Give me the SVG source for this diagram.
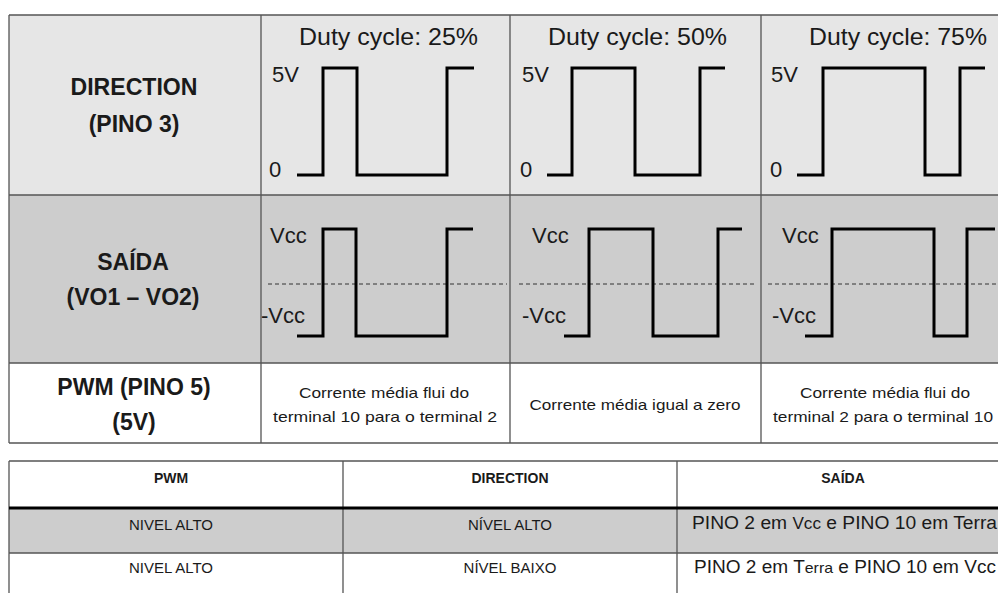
<svg xmlns="http://www.w3.org/2000/svg" width="998" height="593" viewBox="0 0 998 593">
<style>
text{font-family:"Liberation Sans",Arial,sans-serif;fill:#1a1a1a}
.hd{font-weight:bold;font-size:23px;text-anchor:middle}
.ttl{font-size:24px}
.lab{font-size:22px}
.sm{font-size:15px;text-anchor:middle}
.bh{font-weight:bold;font-size:14px;text-anchor:middle}
.bt{font-size:15px;text-anchor:middle}
.big{font-size:18px}
.wave{fill:none;stroke:#000;stroke-width:3;stroke-linejoin:miter}
.dash{stroke:#333;stroke-width:1;stroke-dasharray:4 3}
.grid{stroke:#555;stroke-width:1.3;fill:none}
</style>
<rect width="998" height="593" fill="#fff"/>
<rect x="9" y="15" width="989" height="180" fill="#e6e6e6"/>
<rect x="9" y="195" width="989" height="168" fill="#cdcdcd"/>
<rect x="9" y="508" width="989" height="45" fill="#cdcdcd"/>

<g id="grid">
<path class="grid" d="M9,15 H998 M9,195 H998 M9,363 H998 M9,443 H998 M9,15 V443 M261,15 V443 M510,15 V443 M761,15 V443"/>
<path class="grid" d="M9,461 H998 M9,553 H998 M9,461 V593 M343,461 V593 M677,461 V593"/>
<path d="M9,508 H998" stroke="#000" stroke-width="3"/>
</g>

<g id="h-direction"><text class="hd" x="134" y="95" textLength="127" lengthAdjust="spacingAndGlyphs">DIRECTION</text><text class="hd" x="134" y="132">(PINO 3)</text></g>
<g id="h-saida"><text class="hd" x="133" y="270">SAÍDA</text><text class="hd" x="133" y="305">(VO1 – VO2)</text></g>
<g id="h-pwm"><text class="hd" x="134" y="395">PWM (PINO 5)</text><text class="hd" x="134" y="430">(5V)</text></g>

<g id="dir25">
<text class="ttl" x="299" y="45" textLength="179" lengthAdjust="spacingAndGlyphs">Duty cycle: 25%</text>
<text class="lab" x="272" y="82">5V</text><text class="lab" x="269" y="177">0</text>
<path class="wave" d="M297,175 H323 V68 H357 V175 H447 V68 H474"/>
</g>
<g id="dir50">
<text class="ttl" x="548" y="45" textLength="179" lengthAdjust="spacingAndGlyphs">Duty cycle: 50%</text>
<text class="lab" x="522" y="82">5V</text><text class="lab" x="520" y="177">0</text>
<path class="wave" d="M547,175 H572 V68 H635 V175 H700 V68 H725"/>
</g>
<g id="dir75">
<text class="ttl" x="809" y="45" textLength="178" lengthAdjust="spacingAndGlyphs">Duty cycle: 75%</text>
<text class="lab" x="771" y="82">5V</text><text class="lab" x="770" y="177">0</text>
<path class="wave" d="M797,175 H823 V68 H925 V175 H960 V68 H985"/>
</g>

<g id="out25">
<line class="dash" x1="268" y1="284" x2="507" y2="284"/>
<text class="lab" x="270" y="243">Vcc</text><text class="lab" x="261" y="323">-Vcc</text>
<path class="wave" d="M297,336 H323 V229 H356 V336 H447 V229 H473"/>
</g>
<g id="out50">
<line class="dash" x1="519" y1="284" x2="755" y2="284"/>
<text class="lab" x="532" y="243">Vcc</text><text class="lab" x="522" y="323">-Vcc</text>
<path class="wave" d="M564,336 H589 V229 H653 V336 H718 V229 H742"/>
</g>
<g id="out75">
<line class="dash" x1="768" y1="284" x2="998" y2="284"/>
<text class="lab" x="782" y="243">Vcc</text><text class="lab" x="772" y="323">-Vcc</text>
<path class="wave" d="M805,336 H832 V229 H934 V336 H967 V229 H995"/>
</g>

<g id="cur25">
<text class="sm" x="384" y="398" textLength="170" lengthAdjust="spacingAndGlyphs">Corrente média flui do</text>
<text class="sm" x="385" y="422" textLength="224" lengthAdjust="spacingAndGlyphs">terminal 10 para o terminal 2</text>
</g>
<g id="cur50">
<text class="sm" x="635" y="410" textLength="211" lengthAdjust="spacingAndGlyphs">Corrente média igual a zero</text>
</g>
<g id="cur75">
<text class="sm" x="885" y="398" textLength="170" lengthAdjust="spacingAndGlyphs">Corrente média flui do</text>
<text class="sm" x="883" y="422" textLength="220" lengthAdjust="spacingAndGlyphs">terminal 2 para o terminal 10</text>
</g>

<g id="t-head">
<text class="bh" x="171" y="483">PWM</text>
<text class="bh" x="510" y="483">DIRECTION</text>
<text class="bh" x="843" y="483">SAÍDA</text>
</g>
<g id="t-row1">
<text class="bt" x="171" y="530">NIVEL ALTO</text>
<text class="bt" x="510" y="530">NÍVEL ALTO</text>
<text class="big" x="692" y="529" textLength="305" lengthAdjust="spacingAndGlyphs">PINO 2 em <tspan font-size="16">Vcc</tspan> e PINO 10 em Terra</text>
</g>
<g id="t-row2">
<text class="bt" x="171" y="573">NIVEL ALTO</text>
<text class="bt" x="510" y="573">NÍVEL BAIXO</text>
<text class="big" x="694" y="573" textLength="302" lengthAdjust="spacingAndGlyphs">PINO 2 em T<tspan font-size="15">erra</tspan> e PINO 10 em Vcc</text>
</g>
</svg>
